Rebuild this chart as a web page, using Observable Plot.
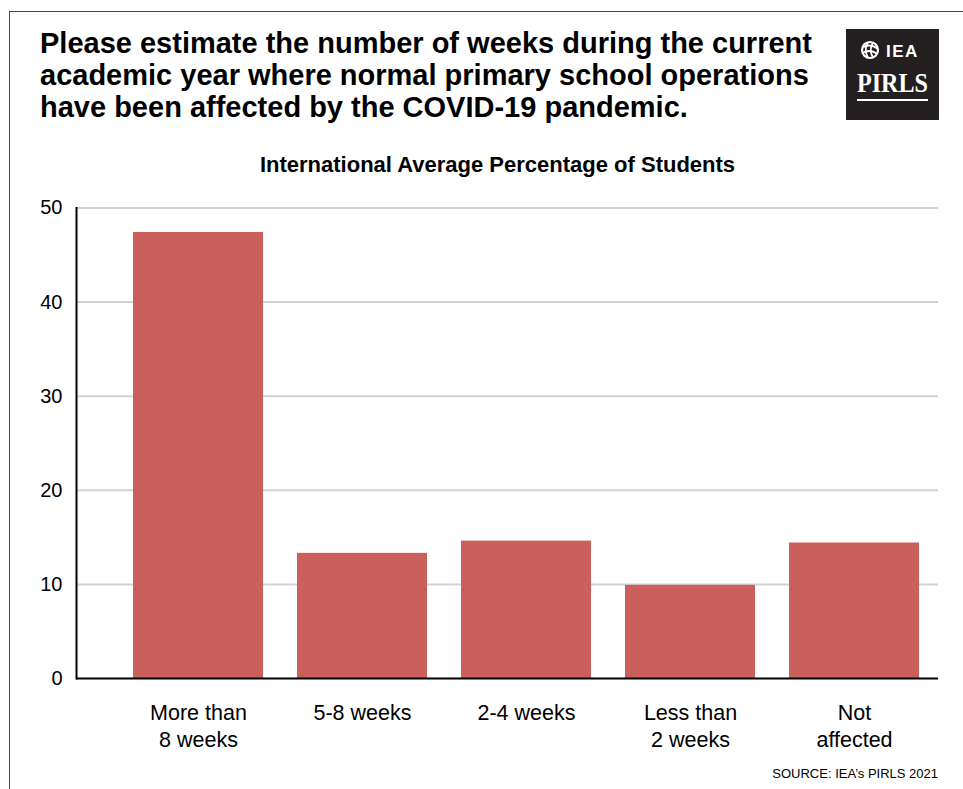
<!DOCTYPE html>
<html>
<head>
<meta charset="utf-8">
<script src="https://cdn.jsdelivr.net/npm/d3@7"></script>
<script src="https://cdn.jsdelivr.net/npm/@observablehq/plot@0.6"></script>
<style>
  html, body { margin: 0; padding: 0; background: #fff; }
  body { width: 963px; height: 789px; position: relative; overflow: hidden;
         font-family: "Liberation Sans", Arial, sans-serif; color: #000; }
  #frame { position: absolute; left: 9px; top: 11px; width: 1000px; height: 900px;
           border-left: 1px solid #444; border-top: 1px solid #444; }
  #title { position: absolute; left: 40px; top: 27px; width: 820px; white-space: nowrap;
           font-size: 29px; font-weight: bold; line-height: 32px; }
  #logo { position: absolute; left: 846px; top: 29px; width: 93px; height: 91px; background: #231f20; }
  #subtitle { position: absolute; left: 0; width: 995px; top: 152px; text-align: center;
              font-size: 22px; font-weight: bold; line-height: 25px; }
  #chart { position: absolute; left: 0; top: 190px; }
  #source { position: absolute; right: 25px; top: 766px; font-size: 13px; }
</style>
</head>
<body>
<div id="frame"></div>
<div id="title">Please estimate the number of weeks during the current<br>academic year where normal primary school operations<br>have been affected by the COVID-19 pandemic.</div>
<div id="logo">
  <svg width="93" height="91" viewBox="0 0 93 91">
    <g transform="translate(24,21)" fill="none" stroke="#fff">
      <circle r="8" stroke-width="2.2"/>
      <path d="M-7.5,-2.5 Q0,-7 7.5,-1.5" stroke-width="1.8"/>
      <path d="M-7.5,3 Q0,-1.5 7.5,4" stroke-width="1.8"/>
      <path d="M-2,-7.5 Q-6.5,0 -2,7.5" stroke-width="1.8"/>
      <path d="M3,-7.5 Q-1.5,0 3,7.5" stroke-width="1.8"/>
    </g>
    <text x="40" y="28" fill="#fff" font-family="Liberation Sans, Arial, sans-serif" font-weight="bold" font-size="17" letter-spacing="1.5">IEA</text>
    <text x="11" y="62.5" fill="#fff" font-family="Liberation Serif, Times New Roman, serif" font-weight="bold" font-size="27" textLength="71" lengthAdjust="spacingAndGlyphs">PIRLS</text>
    <rect x="11" y="70" width="71" height="2" fill="#fff"/>
  </svg>
</div>
<div id="subtitle">International Average Percentage of Students</div>
<div id="chart"></div>
<div id="source">SOURCE: IEA’s PIRLS 2021</div>
<script>
// Time during which normal school operations were affected
const categories = ["More than\n8 weeks", "5-8 weeks", "2-4 weeks", "Less than\n2 weeks", "Not\naffected"];
// International average percentage of students
const percentages = [47.4, 13.3, 14.6, 9.9, 14.4];
const yTicks = [0, 10, 20, 30, 40, 50];

const data = categories.map((c, i) => ({category: c, value: percentages[i]}));

const chart = Plot.plot({
  width: 963,
  height: 570,
  marginTop: 17.5,
  marginBottom: 82,
  marginLeft: 76,
  marginRight: 25,
  style: {fontFamily: "Liberation Sans, Arial, sans-serif", fontSize: "20px", color: "#000", background: "transparent"},
  x: {domain: categories, insetLeft: 40, insetRight: 2, paddingInner: 0.21, paddingOuter: 0.105, label: null},
  y: {domain: [0, 50], label: null},
  marks: [
    Plot.gridY(yTicks.filter(d => d > 0), {stroke: "#d3d3d3", strokeOpacity: 1, strokeWidth: 2}),
    Plot.barY(data, {x: "category", y: "value", fill: "#ca5f5c"}),
    Plot.axisY(yTicks, {tickSize: 0, tickPadding: 14, fontSize: 20, label: null}),
    Plot.axisX({tickSize: 0, tickPadding: 22, fontSize: 21.5, lineHeight: 1.26, label: null}),
    Plot.ruleY([0], {stroke: "#000", strokeWidth: 2}),
    Plot.frame({anchor: "left", stroke: "#000", strokeWidth: 2})
  ]
});
document.getElementById("chart").appendChild(chart);
</script>
</body>
</html>
